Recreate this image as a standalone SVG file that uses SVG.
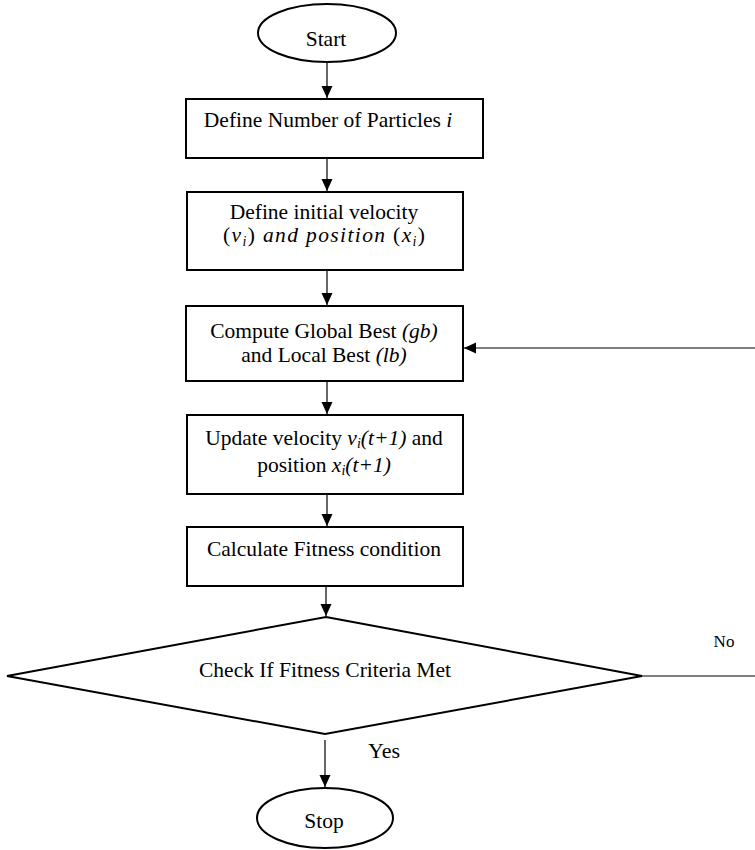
<svg xmlns="http://www.w3.org/2000/svg" width="755" height="850" viewBox="0 0 755 850">
  <style>
    .shape { fill: #ffffff; stroke: #000000; stroke-width: 2; }
    .conn { fill: none; stroke: #000000; stroke-width: 1.2; }
    .lbl { font-family: "Liberation Serif", "Times New Roman", serif; font-size: 21.5px; fill: #000000; text-anchor: middle; }
    .it { font-style: italic; }
    .sub { font-size: 14px; font-style: italic; }
  </style>
  <defs>
    <marker id="arrow" markerUnits="userSpaceOnUse" markerWidth="12" markerHeight="12" refX="12" refY="5.5" orient="auto">
      <path d="M0,0 L12,5.5 L0,11 Z" fill="#000000"/>
    </marker>
  </defs>

  <!-- connectors -->
  <g id="connectors">
    <line class="conn" x1="327" y1="62" x2="327" y2="98" marker-end="url(#arrow)"/>
    <line class="conn" x1="327" y1="159" x2="327" y2="191" marker-end="url(#arrow)"/>
    <line class="conn" x1="327" y1="271" x2="327" y2="305" marker-end="url(#arrow)"/>
    <line class="conn" x1="327" y1="382" x2="327" y2="414" marker-end="url(#arrow)"/>
    <line class="conn" x1="327" y1="495" x2="327" y2="526" marker-end="url(#arrow)"/>
    <line class="conn" x1="326" y1="587" x2="326" y2="616" marker-end="url(#arrow)"/>
    <line class="conn" x1="325" y1="740" x2="325" y2="787" marker-end="url(#arrow)"/>
    <!-- "No" branch leaving the decision and the loop back into the best-value step -->
    <line class="conn" x1="642" y1="676" x2="755" y2="676"/>
    <line class="conn" x1="755" y1="348" x2="464" y2="348" marker-end="url(#arrow)"/>
    <text class="lbl" x="724" y="647" style="font-size:17px">No</text>
    <text class="lbl" x="384" y="758" style="font-size:22px">Yes</text>
  </g>

  <g id="start">
    <ellipse class="shape" cx="327" cy="33" rx="69" ry="29"/>
    <text class="lbl" x="326" y="46">Start</text>
  </g>

  <g id="define-particles">
    <rect class="shape" x="186" y="99" width="297" height="59"/>
    <text class="lbl" x="328" y="127">Define Number of Particles <tspan class="it">i</tspan></text>
  </g>

  <g id="define-velocity">
    <rect class="shape" x="187" y="192" width="276" height="78"/>
    <text class="lbl" x="324" y="219">Define initial velocity</text>
    <text class="lbl" x="324" y="242" textLength="202" lengthAdjust="spacing">(<tspan class="it">v</tspan><tspan class="sub" dy="4">i</tspan><tspan dy="-4">)</tspan><tspan class="it"> and position </tspan>(<tspan class="it">x</tspan><tspan class="sub" dy="4">i</tspan><tspan dy="-4">)</tspan></text>
  </g>

  <g id="compute-best">
    <rect class="shape" x="186" y="306" width="277" height="75"/>
    <text class="lbl" x="324" y="338">Compute Global Best <tspan class="it">(gb)</tspan></text>
    <text class="lbl" x="324" y="362">and Local Best <tspan class="it">(lb)</tspan></text>
  </g>

  <g id="update">
    <rect class="shape" x="187" y="415" width="276" height="79"/>
    <text class="lbl" x="324" y="445">Update velocity <tspan class="it">v</tspan><tspan class="sub" dy="3">i</tspan><tspan class="it" dy="-3">(t+1)</tspan> and</text>
    <text class="lbl" x="324" y="472">position <tspan class="it">x</tspan><tspan class="sub" dy="3">i</tspan><tspan class="it" dy="-3">(t+1)</tspan></text>
  </g>

  <g id="fitness">
    <rect class="shape" x="187" y="527" width="276" height="59"/>
    <text class="lbl" x="324" y="556">Calculate Fitness condition</text>
  </g>

  <g id="check">
    <polygon class="shape" points="326,617 642,676 325,734 7,676"/>
    <text class="lbl" x="325" y="677">Check If Fitness Criteria Met</text>
  </g>

  <g id="stop">
    <ellipse class="shape" cx="325" cy="818" rx="68" ry="30"/>
    <text class="lbl" x="324" y="828">Stop</text>
  </g>
</svg>
